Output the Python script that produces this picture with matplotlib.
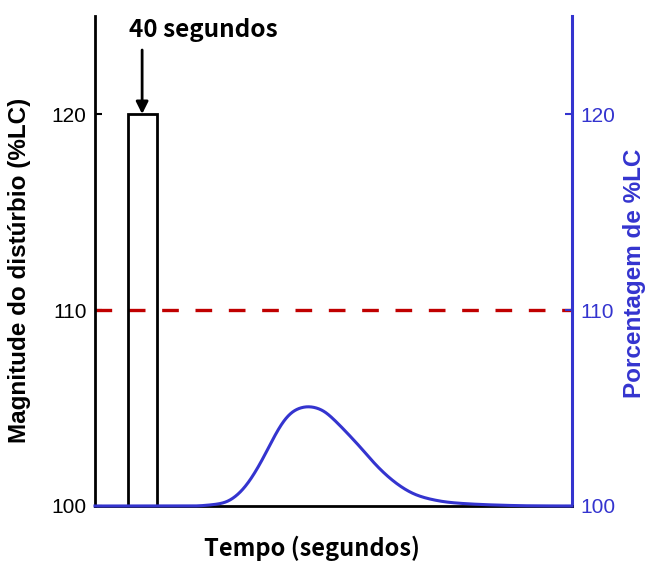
import numpy as np
import matplotlib
matplotlib.use("Agg")
import matplotlib.pyplot as plt

# Disturbance pulse (seconds, %LC)
pulse_t = [45, 45, 85, 85]
pulse_v = [100, 120, 120, 100]

# Limit threshold
limit_level = 110

# Response of the %LC signal over time
resp_t = [0, 140, 152, 179, 193, 207, 221, 234, 248, 262, 276, 294, 313, 331,
          349, 368, 386, 405, 423, 441, 460, 487, 515, 552, 598, 658]
resp_v = [100.0, 100.0, 100.03, 100.16, 100.45, 100.96, 101.72, 102.58,
          103.6, 104.45, 104.92, 105.09, 104.92, 104.36, 103.68, 102.92,
          102.15, 101.47, 100.96, 100.59, 100.37, 100.19, 100.11, 100.05,
          100.01, 100.0]

yticks = [100, 110, 120]
blue = "#3434cf"


def pchip(xs, ys, xq):
    """Shape-preserving piecewise cubic (Fritsch-Carlson)."""
    x = np.asarray(xs, float)
    y = np.asarray(ys, float)
    h = np.diff(x)
    d = np.diff(y) / h
    m = np.zeros_like(y)
    for k in range(1, len(x) - 1):
        if d[k-1] * d[k] > 0:
            w1 = 2 * h[k] + h[k-1]
            w2 = h[k] + 2 * h[k-1]
            m[k] = (w1 + w2) / (w1 / d[k-1] + w2 / d[k])
    m[0] = d[0]
    m[-1] = d[-1]
    idx = np.clip(np.searchsorted(x, xq) - 1, 0, len(x) - 2)
    t = (xq - x[idx]) / h[idx]
    h00 = 2*t**3 - 3*t**2 + 1
    h10 = t**3 - 2*t**2 + t
    h01 = -2*t**3 + 3*t**2
    h11 = t**3 - t**2
    return (h00*y[idx] + h10*h[idx]*m[idx] + h01*y[idx+1]
            + h11*h[idx]*m[idx+1])


def gauss_smooth(v, step, sigma):
    """Light Gaussian smoothing of a dense, evenly sampled curve."""
    half = int(4 * sigma / step)
    k = np.exp(-0.5 * (np.arange(-half, half + 1) * step / sigma) ** 2)
    k /= k.sum()
    padded = np.concatenate([np.full(half, v[0]), v, np.full(half, v[-1])])
    return np.convolve(padded, k, mode="valid")


fig = plt.figure(figsize=(6.54, 5.63), dpi=100)
ax = fig.add_axes([95/654, 1-506/563, (572-95)/654, (506-16)/563])
ax.set_xlim(0, 658)
ax.set_ylim(100, 125)

tq = np.linspace(resp_t[0], resp_t[-1], 1317)
vq = gauss_smooth(pchip(resp_t, resp_v, tq), tq[1] - tq[0], 7.0)

ax.axhline(limit_level, color="#c00000", lw=2.4, dashes=(5, 5), zorder=2)
ax.plot(pulse_t, pulse_v, color="black", lw=2, solid_joinstyle="miter", zorder=3)
ax.plot(tq, vq, color=blue, lw=2.2, zorder=3, clip_on=False)

ax.spines["top"].set_visible(False)
ax.spines["left"].set_linewidth(2)
ax.spines["bottom"].set_linewidth(2)
ax.spines["right"].set_linewidth(2.2)
ax.spines["right"].set_color(blue)
ax.set_xticks([])
ax.set_yticks(yticks)
ax.tick_params(axis="y", direction="in", length=5, width=1.5, pad=6,
               labelsize=15)
for lab in ax.get_yticklabels():
    lab.set_family("Liberation Sans")

ax2 = ax.twinx()
ax2.set_ylim(100, 125)
ax2.set_yticks(yticks)
for s in ("top", "left", "bottom", "right"):
    ax2.spines[s].set_visible(False)
ax2.tick_params(axis="y", direction="in", length=5, width=1.5, pad=6,
                labelsize=15, colors=blue)
for lab in ax2.get_yticklabels():
    lab.set_family("Liberation Sans")

# axis titles
fig.text(20/654, 1-270/563, "Magnitude do distúrbio (%LC)", rotation=90,
         ha="center", va="center", fontsize=17.5, fontweight="bold",
         family="Liberation Sans")
fig.text(634/654, 1-273/563, "Porcentagem de %LC", rotation=90,
         ha="center", va="center", fontsize=17.5, fontweight="bold",
         family="Liberation Sans", color=blue)
fig.text(312/654, 1-548/563, "Tempo (segundos)", ha="center", va="center",
         fontsize=17, fontweight="bold",
         family=["Noto Sans CJK JP", "DejaVu Sans"])

# pulse duration callout
fig.text(203/654, 1-30/563, "40 segundos", ha="center", va="center",
         fontsize=17.5, fontweight="bold",
         family=["Noto Sans CJK JP", "DejaVu Sans"])
ax.annotate("", xy=(65, 120), xytext=(65, 100 + (506 - 50) / 19.6),
            xycoords="data", textcoords="data",
            arrowprops=dict(arrowstyle="-|>", color="black", lw=2,
                            mutation_scale=18, shrinkA=0, shrinkB=0))

fig.savefig("out.png", dpi=100)
